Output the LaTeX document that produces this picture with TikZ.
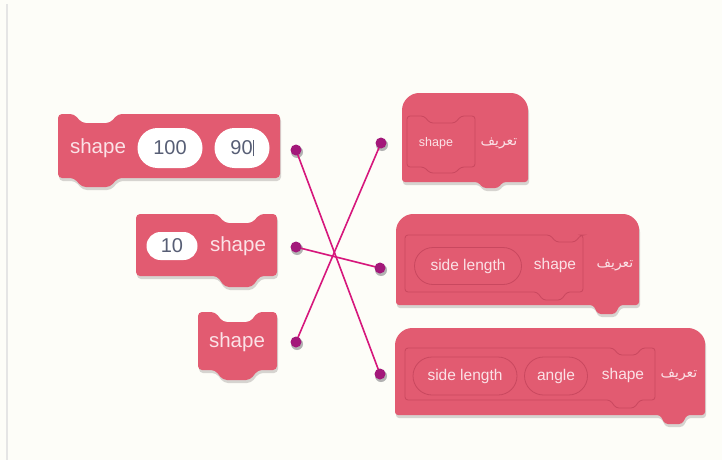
\documentclass[tikz,border=0pt]{standalone}
\usepackage{fontspec}
\setmainfont{Liberation Sans}
\newfontfamily\arabicfont[Script=Arabic]{DejaVu Sans}
\TeXXeTstate=1
\usetikzlibrary{shapes.misc,calc}
\definecolor{bg}{HTML}{FDFDF8}
\definecolor{blockpink}{HTML}{E25B71}
\definecolor{blockedge}{HTML}{C9485F}
\definecolor{shadowc}{HTML}{D6D4D0}
\definecolor{txtpink}{HTML}{FBE2E7}
\definecolor{linemag}{HTML}{D6177C}
\definecolor{dotcol}{HTML}{A3187A}
\definecolor{numgrey}{HTML}{575E75}
\tikzset{
  lbl/.style={text=txtpink, inner sep=0pt, font=\fontsize{20.5}{22}\selectfont},
  slbl/.style={text=txtpink, inner sep=0pt, font=\fontsize{15.5}{17}\selectfont},
  tlbl/.style={text=txtpink, inner sep=0pt, font=\fontsize{12.5}{14}\selectfont},
  albl/.style={text=txtpink, inner sep=0pt, font=\arabicfont\fontsize{14}{16}\selectfont},
  numoval/.style={rounded rectangle, fill=white, text=numgrey, inner sep=0pt,
    font=\fontsize{20}{22}\selectfont},
  argoval/.style={rounded rectangle, fill=blockpink, draw=blockedge, line width=0.8pt,
    text=txtpink, inner sep=0pt, font=\fontsize{15.5}{17}\selectfont},
  proto/.style={draw=blockedge, line width=0.8pt, rounded corners=3pt},
  dot/.style={circle, fill=dotcol, minimum size=11pt, inner sep=0pt},
  dotshadow/.style={circle, fill=black!30, minimum size=12pt, inner sep=0pt},
  link/.style={linemag, line width=1.6pt},
}
\begin{document}
\begin{tikzpicture}[x=1pt, y=-1pt]
\useasboundingbox (0,0) rectangle (722,460);
\fill[bg] (0,0) rectangle (722,460);
\fill[black!10] (6,4) rectangle (8,460);

% blocks: shadow pass then colour pass
\foreach \dx/\dy/\col in {1/3/shadowc, 0/0/blockpink} {
\begin{scope}[shift={(\dx,\dy)}]
  % left block 1
  \fill[\col, rounded corners=4pt] (58,114) -- (74,114) -- (82,123) -- (110,123) -- (118,114)
    -- (280,114) -- (280,178) -- (118,178) -- (110,187) -- (82,187) -- (74,178) -- (58,178) -- cycle;
  % left block 2
  \fill[\col, rounded corners=4pt] (136,214) -- (217,214) -- (225,223) -- (252,223) -- (260,214)
    -- (277,214) -- (277,276) -- (260,276) -- (252,287) -- (225,287) -- (217,276) -- (136,276) -- cycle;
  % left block 3
  \fill[\col, rounded corners=4pt] (198,312) -- (215,312) -- (223,322) -- (250,322) -- (258,312)
    -- (277,312) -- (277,370) -- (258,370) -- (250,380) -- (223,380) -- (215,370) -- (198,370) -- cycle;
  % right block 1 (hat)
  \fill[\col, rounded corners=3pt] (402,182) -- (402,113) .. controls (402,101) and (410,93) .. (422,93)
    -- (508,93) .. controls (520,93) and (528,101) .. (528,113) -- (528,182) -- (503,182) -- (498,188)
    -- (483,188) -- (478,182) -- cycle;
  % right block 2 (hat)
  \fill[\col, rounded corners=3pt] (396,305) -- (396,234) .. controls (396,222) and (404,214) .. (416,214)
    -- (620,214) .. controls (632,214) and (639,222) .. (639,232) -- (639,305) -- (620,305) -- (615,314)
    -- (598,314) -- (593,305) -- cycle;
  % right block 3 (hat)
  \fill[\col, rounded corners=3pt] (395,415) -- (395,348) .. controls (395,336) and (403,328) .. (415,328)
    -- (685,328) .. controls (697,328) and (705,336) .. (705,346) -- (705,415) -- (687,415) -- (682,424)
    -- (665,424) -- (660,415) -- cycle;
\end{scope}
}

% prototype outlines inside the define blocks
\draw[proto] (407,116) -- (424,116) -- (430,123) -- (455,123) -- (461,116) -- (475,116) -- (475,167)
  -- (461,167) -- (455,173) -- (430,173) -- (424,167) -- (407,167) -- cycle;
\draw[proto] (405,235) -- (550,235) -- (556,242) -- (575,242) -- (581,235) -- (583,235) -- (583,292)
  -- (567,292) -- (561,300) -- (543,300) -- (537,292) -- (405,292) -- cycle;
\draw[proto] (405,348) -- (613,348) -- (619,355) -- (636,355) -- (642,348) -- (655,348) -- (655,400)
  -- (640,400) -- (634,408) -- (616,408) -- (610,400) -- (405,400) -- cycle;

% left block texts
\node[lbl] (t1) at (98,148) {shape};
\node[numoval, minimum width=65pt, minimum height=40pt] (n100) at (170,148) {100};
\node[numoval, minimum width=55pt, minimum height=40pt] (n90) at (242,148) {90\hspace{0.3pt}\rule[-1.5pt]{0.7pt}{16pt}};
\node[numoval, minimum width=51pt, minimum height=28pt] (n10) at (172,246) {10};
\node[lbl] (t2) at (238,246) {shape};
\node[lbl] (t3) at (237,342) {shape};

% right block texts
\node[tlbl] (r1s) at (436,143) {shape};
\node[albl] (r1a) at (499,143) {\beginR تعريف\endR};
\node[argoval, minimum width=107pt, minimum height=37pt] (r2o) at (468,266) {side length};
\node[slbl] (r2s) at (555,265) {shape};
\node[albl] (r2a) at (615,265) {\beginR تعريف\endR};
\node[argoval, minimum width=104pt, minimum height=38pt] (r3o) at (465,376) {side length};
\node[argoval, minimum width=63pt, minimum height=38pt] (r3g) at (556,376) {angle};
\node[slbl] (r3s) at (623,375) {shape};
\node[albl] (r3a) at (679,375) {\beginR تعريف\endR};

% connection points
\coordinate (pL1) at (296,150);
\coordinate (pL2) at (296,247);
\coordinate (pL3) at (296,342);
\coordinate (pR1) at (381,143);
\coordinate (pR2) at (380,268);
\coordinate (pR3) at (380,374);

% dot shadows
\foreach \n in {pL1,pL2,pL3,pR1,pR2,pR3} {
  \node[dotshadow] (s\n) at ($(\n)+(1,2)$) {};
}

% connectors
\draw[link] (pL1) -- (pR3);
\draw[link] (pL2) -- (pR2);
\draw[link] (pL3) -- (pR1);

% dots
\node[dot] (L1) at (pL1) {};
\node[dot] (L2) at (pL2) {};
\node[dot] (L3) at (pL3) {};
\node[dot] (R1) at (pR1) {};
\node[dot] (R2) at (pR2) {};
\node[dot] (R3) at (pR3) {};
\end{tikzpicture}
\end{document}
